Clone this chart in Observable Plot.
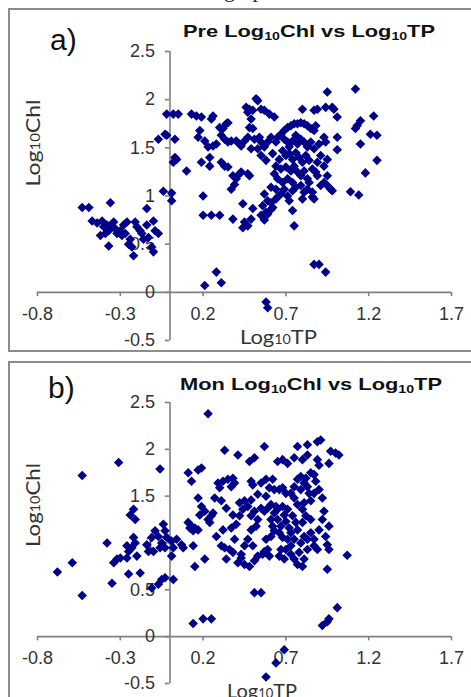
<!DOCTYPE html>
<html><head><meta charset="utf-8">
<script src="https://cdn.jsdelivr.net/npm/d3@7"></script>
<script src="https://cdn.jsdelivr.net/npm/@observablehq/plot@0.6"></script>
<style>
html,body{margin:0;padding:0;background:#fff;}
#page{position:relative;width:471px;height:697px;overflow:hidden;background:#fff;font-family:"Liberation Sans",Arial,sans-serif;}
.box{position:absolute;left:8px;width:480px;border:2px solid #8c8c8c;box-sizing:border-box;}
.abs{position:absolute;white-space:nowrap;line-height:1;}
.plot{position:absolute;left:0;}
.title{font-weight:bold;font-size:17px;color:#111;transform-origin:0 0;}
.title sub{font-size:11px;vertical-align:-3px;line-height:0;}
.lbl{font-family:Lato,"Open Sans",sans-serif;font-size:20px;color:#333;transform-origin:0 0;}
.lbl sub{font-size:13px;vertical-align:0;line-height:0;}
.tag{font-size:30px;color:#111;}
.cap{font-family:"Liberation Serif","DejaVu Serif",serif;font-size:22px;color:#222;word-spacing:12px;}
</style>
</head><body>
<div id="page">
  <div class="abs cap" style="left:224px;top:-21px;">g p</div>
  <div class="box" style="top:8px;height:344px;"></div>
  <div class="box" style="top:361px;height:400px;"></div>
  <div id="plotA" class="plot" style="top:0px;"></div>
  <div id="plotB" class="plot" style="top:361px;"></div>
  <div class="abs tag" style="left:50px;top:24.6px;">a)</div>
  <div class="abs tag" style="left:48px;top:372.6px;">b)</div>
  <div class="abs title fit" data-w="252" style="left:183px;top:22.6px;">Pre Log<sub>10</sub>Chl vs Log<sub>10</sub>TP</div>
  <div class="abs title fit" data-w="262" style="left:180px;top:375.6px;">Mon Log<sub>10</sub>Chl vs Log<sub>10</sub>TP</div>
  <div class="abs lbl fit" data-w="77" style="left:240px;top:326.3px;">Log<sub>10</sub>TP</div>
  <div class="abs lbl fit" data-w="70" style="left:227px;top:680px;">Log<sub>10</sub>TP</div>
  <div class="abs lbl ylab" data-w="87" data-cx="32" data-cy="143">Log<sub>10</sub>Chl</div>
  <div class="abs lbl ylab" data-w="84" data-cx="32" data-cy="505">Log<sub>10</sub>Chl</div>
</div>
<script>
const xTicks = [-0.8, -0.3, 0.2, 0.7, 1.2, 1.7];
const xTickLabels = ["-0.8", "-0.3", "0.2", "0.7", "1.2", "1.7"];
const yTicks = [-0.5, 0, 0.5, 1, 1.5, 2, 2.5];
const yTickLabels = ["-0.5", "0", "0.5", "1", "1.5", "2", "2.5"];

// Panel a) Pre: Log10TP / Log10Chl
const preTP = [
-0.53,-0.49,-0.36,-0.47,-0.44,-0.41,-0.40,-0.38,-0.37,-0.36,-0.34,-0.42,-0.39,-0.37,-0.32,-0.30,-0.29,-0.27,-0.26,-0.24,-0.23,-0.22,-0.25,-0.21,-0.20,-0.18,-0.17,-0.16,-0.14,-0.14,-0.13,-0.11,-0.10,-0.09,-0.07,-0.10,-0.28,-0.33,
-0.04,0.01,0.01,-0.07,-0.03,-0.02,0.03,-0.02,0.02,0.05,0.04,0.02,0.03,0.10,
0.13,0.16,0.19,0.25,0.26,0.18,0.17,0.21,0.23,0.26,0.28,0.19,0.24,0.24,0.20,0.20,0.25,0.30,0.21,0.28,0.31,
0.30,0.32,0.34,0.35,0.31,0.33,0.35,0.37,0.40,0.42,0.43,0.45,0.31,0.33,0.35,0.38,0.40,0.42,0.43,0.39,0.37,0.48,0.47,0.38,0.44,0.45,0.47,0.49,0.50,0.44,0.46,0.48,0.50,0.47,0.52,0.53,0.48,0.50,0.49,0.47,0.51,0.54,0.55,0.53,0.49,0.55,0.57,0.60,0.63,
0.57,0.59,0.61,0.62,0.56,0.58,0.64,0.65,0.67,0.69,0.71,0.72,0.74,0.74,0.75,0.55,0.59,0.61,0.57,0.58,0.59,0.87,0.90,0.94,
0.64,0.65,0.67,0.69,0.71,0.73,0.75,0.77,0.79,0.81,0.83,0.85,0.87,0.88,0.69,0.71,0.72,0.74,0.76,0.77,0.79,0.81,0.83,0.85,0.87,0.68,0.70,0.72,0.74,0.76,0.78,0.80,0.82,0.84,0.66,0.64,0.67,0.70,0.73,0.75,0.77,0.79,0.81,0.83,0.86,0.88,0.63,0.65,0.68,0.71,0.74,0.76,0.79,0.83,0.86,0.87,0.61,0.64,0.93,0.95,0.97,0.90,0.94,0.93,0.61,0.59,0.57,0.55,0.58,0.62,
1.01,1.01,0.95,0.91,0.89,0.93,0.95,0.89,0.98,0.91,0.86,0.84,0.81,0.80,0.95,1.12,0.80,0.87,0.89,0.94,0.98,0.99,1.01,1.23,1.15,1.13,1.12,1.21,1.25,1.15,1.25,1.18,1.09,1.14
];
const preChl = [
0.88,0.88,0.93,0.74,0.72,0.74,0.68,0.70,0.64,0.69,0.73,0.59,0.61,0.48,0.61,0.64,0.59,0.61,0.73,0.55,0.47,0.38,0.50,0.73,0.68,0.64,0.61,0.55,0.87,0.70,0.57,0.47,0.74,0.64,0.61,0.42,0.70,0.66,
1.05,1.03,0.95,1.59,1.64,1.63,1.59,1.85,1.85,1.85,1.38,1.35,1.40,1.26,
1.85,1.83,1.82,1.80,1.83,1.68,1.61,1.57,1.51,1.52,1.54,1.35,1.40,1.31,1.00,0.80,0.80,0.80,0.07,0.21,0.10,
1.71,1.70,1.75,1.76,1.63,1.59,1.56,1.57,1.57,1.54,1.52,1.57,1.35,1.31,1.30,1.21,1.18,1.23,1.25,1.12,1.07,1.21,1.23,0.76,0.92,0.73,0.69,0.76,0.87,0.67,1.92,1.90,1.89,1.87,2.01,1.99,1.71,1.70,1.80,1.61,1.59,1.61,1.56,1.49,1.49,1.90,1.89,1.85,1.82,
1.02,0.95,0.93,0.88,0.90,0.83,0.97,0.99,1.02,1.07,1.00,0.95,1.055,0.85,0.69,0.80,0.81,0.86,0.75,-0.10,-0.16,0.29,0.29,0.21,
1.56,1.61,1.64,1.68,1.71,1.73,1.75,1.75,1.76,1.75,1.73,1.70,1.68,1.73,1.59,1.56,1.51,1.57,1.63,1.54,1.59,1.56,1.51,1.56,1.49,1.47,1.42,1.44,1.38,1.45,1.40,1.35,1.42,1.37,1.38,1.31,1.28,1.30,1.26,1.31,1.25,1.21,1.26,1.18,1.28,1.25,1.23,1.18,1.14,1.18,1.14,1.09,1.11,1.07,1.04,0.97,1.09,1.07,1.14,1.11,1.07,1.54,1.56,1.61,1.61,1.56,1.51,1.42,1.37,1.44,
1.61,1.48,1.38,1.42,1.35,1.31,1.21,1.21,1.055,1.11,0.99,1.14,1.04,0.97,2.08,2.11,1.90,1.89,1.90,1.92,1.92,1.90,1.82,1.83,1.78,1.73,1.70,1.64,1.63,1.54,1.37,1.24,1.045,1.01
];

// Panel b) Mon: Log10TP / Log10Chl
const monTP = [
-0.68,-0.59,-0.53,-0.53,-0.31,-0.38,-0.34,-0.35,-0.32,-0.30,-0.25,-0.18,-0.24,-0.22,-0.21,-0.26,-0.25,-0.23,-0.21,-0.20,-0.26,-0.22,-0.14,-0.11,-0.10,-0.06,-0.05,-0.03,-0.02,-0.03,-0.04,-0.07,-0.09,-0.13,-0.06,-0.11,-0.07,-0.05,-0.03,0.02,0.01,0.02,0.04,0.07,0.08,0.01,
0.11,0.13,0.17,0.19,0.23,0.14,0.20,0.25,0.51,0.55,0.58,0.64,0.69,0.92,0.95,0.96,1.01,1.07,0.95,0.93,0.96,0.94,0.95,0.96,
0.33,0.41,0.57,0.77,0.83,0.89,0.91,0.48,0.51,0.65,0.68,0.71,0.75,0.80,0.83,0.97,1.00,1.02,0.96,0.89,0.90,
0.29,0.32,0.35,0.38,0.30,0.37,0.39,0.49,0.50,0.55,0.58,0.62,0.63,0.60,0.66,0.68,0.70,0.58,0.53,0.49,0.34,0.38,0.31,0.27,0.28,0.32,
0.17,0.19,0.18,0.21,0.23,0.25,0.26,0.24,0.11,0.13,0.15,0.14,0.17,0.12,0.14,0.15,0.21,
0.77,0.79,0.82,0.81,0.83,0.85,0.87,0.88,0.79,0.84,0.87,0.90,0.92,0.85,0.81,0.80,0.77,0.75,0.73,0.75,
0.31,0.33,0.36,0.38,0.34,0.41,0.43,0.39,0.37,0.40,0.42,0.44,0.42,0.45,0.47,0.49,0.51,0.53,0.52,0.49,0.47,0.50,0.45,0.43,0.45,0.48,0.51,0.53,0.56,0.57,0.60,0.59,0.58,0.61,0.63,0.62,0.61,0.63,0.65,0.64,0.61,0.59,0.57,0.55,0.65,0.67,0.66,0.68,0.71,0.73,0.72,0.70,0.69,0.68,0.71,0.74,0.76,0.77,0.75,0.73,0.70,0.67,0.66,0.69,0.73,0.75,0.77,0.80,0.81,0.78,0.79,0.81,0.83,0.85,0.83,0.87,0.89,0.87,0.90,0.92,0.85,0.82,0.80
];
const monChl = [
0.69,0.79,1.72,0.44,1.86,1.00,0.79,0.57,0.83,0.84,0.67,0.68,1.30,1.36,1.25,0.97,0.91,0.95,1.00,0.86,0.84,1.06,0.98,1.06,0.91,0.95,1.00,0.95,1.06,1.13,1.20,1.07,1.13,0.91,1.79,0.52,0.56,0.61,0.63,0.61,1.02,0.95,1.04,0.98,0.95,0.86,
1.75,1.66,1.78,1.80,2.38,0.14,0.19,0.19,0.47,0.47,-0.43,-0.28,-0.14,0.12,0.16,0.19,0.31,0.87,0.72,1.34,1.18,1.07,0.98,0.93,
1.99,1.94,2.03,2.03,2.05,2.08,2.10,1.87,1.91,1.87,1.89,1.85,1.91,1.89,1.94,1.98,1.96,1.94,1.85,1.89,1.83,
1.64,1.66,1.68,1.69,1.59,1.60,1.64,1.66,1.62,1.64,1.68,1.68,1.57,1.59,1.57,1.59,1.53,1.50,1.52,1.46,1.37,1.30,1.45,1.48,1.07,1.14,
1.48,1.39,1.30,1.34,1.25,1.29,1.32,1.22,1.22,1.18,1.16,1.13,1.14,1.16,0.97,0.75,0.83,
1.68,1.71,1.69,1.64,1.60,1.75,1.73,1.66,1.57,1.53,1.53,1.57,1.48,1.45,1.43,1.36,1.41,1.48,1.53,1.60,
0.97,0.95,0.93,0.90,0.83,0.79,0.88,1.04,1.16,1.20,1.29,1.36,1.43,1.45,1.39,1.29,1.34,1.25,1.18,1.14,1.04,0.97,0.97,0.84,0.77,0.75,0.81,0.86,0.88,0.91,0.86,0.93,1.04,1.07,1.13,1.18,1.25,1.32,1.36,1.39,1.41,1.37,1.34,1.37,1.25,1.18,1.11,1.06,1.04,1.11,1.16,1.23,1.30,1.39,1.36,1.29,1.22,1.14,1.04,0.97,0.93,0.93,0.86,0.83,0.88,0.83,0.77,0.75,0.83,0.90,1.00,1.07,1.04,1.11,0.93,0.97,0.93,1.04,1.14,1.25,1.25,1.29,1.22
];

const axisColor = "#808080";
const tickColor = "#333333";
const dotColor = "#00008b";

function panel(tp, chl, height, mt, mb) {
  const data = tp.map((x, i) => ({x, y: chl[i]}));
  const xt = xTicks.map((v, i) => ({v, t: xTickLabels[i]}));
  const yt = yTicks.map((v, i) => ({v, t: yTickLabels[i]}));
  return Plot.plot({
    width: 471, height,
    marginLeft: 37, marginRight: 20, marginTop: mt, marginBottom: mb,
    x: {domain: [-0.8, 1.7], axis: null},
    y: {domain: [-0.5, 2.5], axis: null},
    style: {background: "transparent", overflow: "visible", fontFamily: "Liberation Sans, Arial, sans-serif"},
    marks: [
      Plot.ruleY([0], {x1: -0.8, x2: 1.7, stroke: axisColor, strokeWidth: 1.6}),
      Plot.ruleX([0], {y1: -0.5, y2: 2.5, stroke: axisColor, strokeWidth: 1.6}),
      Plot.ruleX(xt, {x: "v", y1: 0, y2: -0.045, stroke: axisColor, strokeWidth: 1.6}),
      Plot.ruleY(yt, {y: "v", x1: 0, x2: -0.028, stroke: axisColor, strokeWidth: 1.6}),
      Plot.text(xt, {x: "v", y: 0, text: "t", dy: 22, fontSize: 18, fill: tickColor}),
      Plot.text(yt, {x: 0, y: "v", text: "t", textAnchor: "end", dx: -15, fontSize: 18, fill: tickColor}),
      Plot.dot(data, {x: "x", y: "y", symbol: "diamond2", r: 4.3, fill: dotColor, stroke: "none"})
    ]
  });
}

document.getElementById("plotA").append(panel(preTP, preChl, 352, 51, 12));
document.getElementById("plotB").append(panel(monTP, monChl, 336, 41, 14));

document.querySelectorAll(".fit").forEach(el => {
  const w = el.getBoundingClientRect().width;
  el.style.transform = `scaleX(${(+el.dataset.w) / w})`;
});
document.querySelectorAll(".ylab").forEach(el => {
  const r = el.getBoundingClientRect();
  const s = (+el.dataset.w) / r.width;
  el.style.left = (+el.dataset.cx - r.width / 2) + "px";
  el.style.top = (+el.dataset.cy - r.height / 2) + "px";
  el.style.transformOrigin = "50% 50%";
  el.style.transform = `rotate(-90deg) scaleX(${s})`;
});
</script>
</body></html>
